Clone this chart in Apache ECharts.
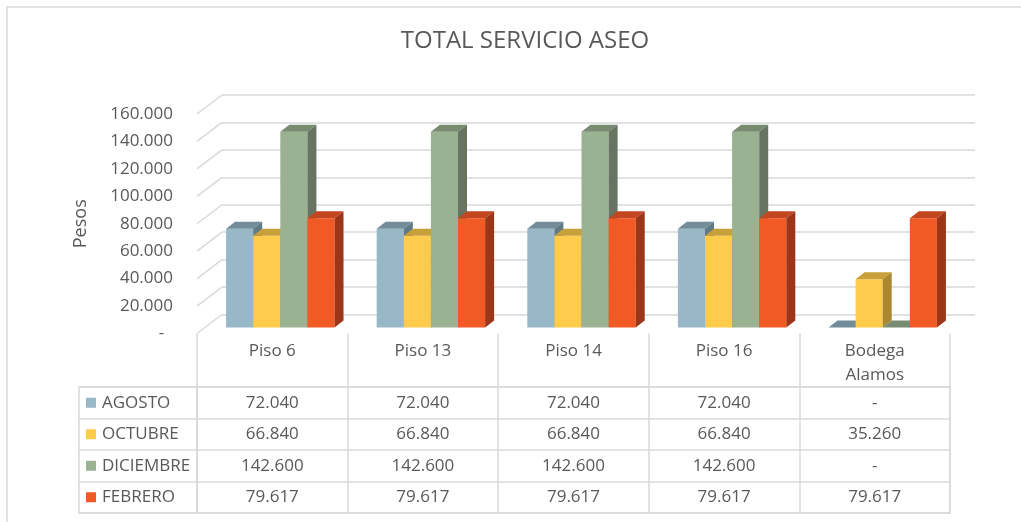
<!DOCTYPE html>
<html>
<head>
<meta charset="utf-8">
<title>TOTAL SERVICIO ASEO</title>
<script src="https://cdn.jsdelivr.net/npm/echarts@6/dist/echarts.min.js"></script>
<style>
  html, body { margin: 0; padding: 0; background: #fff; }
  #main { width: 1021px; height: 522px; }
</style>
</head>
<body>
<div id="main"></div>
<script>
    // datos
    const categories = ['Piso 6', 'Piso 13', 'Piso 14', 'Piso 16', 'Bodega\nAlamos']
    const months = ['AGOSTO', 'OCTUBRE', 'DICIEMBRE', 'FEBRERO']
    const agosto = [72040, 72040, 72040, 72040, 0]
    const octubre = [66840, 66840, 66840, 66840, 35260]
    const diciembre = [142600, 142600, 142600, 142600, 0]
    const febrero = [79617, 79617, 79617, 79617, 79617]
    const yTicks = [0, 20000, 40000, 60000, 80000, 100000, 120000, 140000, 160000]

    const seriesValues = [agosto, octubre, diciembre, febrero]
    // front, top, side
    const faces = [
        ['#98b7c7', '#728d99', '#5f7a86'],
        ['#ffcb4c', '#c8a03a', '#a9882f'],
        ['#9bb292', '#788a70', '#667461'],
        ['#f15a24', '#c2461f', '#9b3619']
    ]
    const FONT = '"Open Sans", sans-serif'
    const TXT = '#595959'
    const GRID_LINE = '#d9d9d9'
    // profundidad (oblicua)
    const DEPTH_X = 25
    const DEPTH_Y = -19
    const BAR_DX = 9
    const BAR_DY = -7

    function fmt (v) {
        if (!v) return '-'
        return String(v).replace(/\B(?=(\d{3})+(?!\d))/g, '.')
    }

    function barRenderer (k) {
        return function (params, api) {
            const i = api.value(0)
            const base = api.coord([i, 0])
            const top = api.coord([i, api.value(1)])
            const bw = api.size([1, 0])[0] * 0.18
            const x0 = base[0] - 2 * bw + k * bw
            const x1 = x0 + bw
            const yb = base[1]
            const yt = top[1]
            return {
                type: 'group',
                children: [
                    {type: 'polygon', z2: k * 3, shape: {points: [[x0, yb], [x1, yb], [x1, yt], [x0, yt]]}, style: {fill: faces[k][0]}},
                    {type: 'polygon', z2: k * 3 + 1, shape: {points: [[x0, yt], [x1, yt], [x1 + BAR_DX, yt + BAR_DY], [x0 + BAR_DX, yt + BAR_DY]]}, style: {fill: faces[k][1]}},
                    {type: 'polygon', z2: k * 3 + 2, shape: {points: [[x1, yt], [x1 + BAR_DX, yt + BAR_DY], [x1 + BAR_DX, yb + BAR_DY], [x1, yb]]}, style: {fill: faces[k][2]}}
                ]
            }
        }
    }

    const barSeries = seriesValues.map((vals, k) => ({
        name: months[k],
        type: 'custom',
        xAxisIndex: 1,
        yAxisIndex: 1,
        renderItem: barRenderer(k),
        encode: {x: 0, y: 1},
        data: vals.map((v, i) => [i, v]),
        z: 5
    }))

    // celdas de la tabla
    const cellData = []
    seriesValues.forEach((vals, m) => {
        vals.forEach((v, i) => cellData.push([i, m, v]))
    })

    const rich = {}
    months.forEach((m, k) => {
        rich['sq' + k] = {width: 10, height: 10, backgroundColor: faces[k][0]}
    })
    rich.t = {fontFamily: FONT, fontSize: 17, color: TXT, padding: [0, 0, 0, 6]}

    const chart = echarts.init(document.getElementById('main'))
    chart.setOption({
        backgroundColor: '#fff',
        animation: false,
        title: {
            text: 'TOTAL SERVICIO ASEO',
            left: 520,
            textAlign: 'center',
            top: 24,
            textStyle: {fontFamily: FONT, fontSize: 24, fontWeight: 'normal', color: TXT}
        },
        graphic: [{
            type: 'rect',
            shape: {x: 7, y: 7, width: 1100, height: 600},
            style: {fill: 'none', stroke: GRID_LINE, lineWidth: 1.5},
            silent: true
        }],
        grid: [
            // plano frontal (etiquetas)
            {left: 197, right: 71, top: 114, height: 219.5},
            // plano de barras
            {left: 205, right: 63, top: 108, height: 219.5},
            // pared trasera
            {left: 222, right: 46, top: 95, height: 219.5},
            // tabla de datos
            {left: 197, right: 71, top: 387, height: 126, show: true, borderColor: GRID_LINE, borderWidth: 1.5},
            // encabezado de filas
            {left: 79, width: 118, top: 387, height: 126, show: true, borderColor: GRID_LINE, borderWidth: 1.5}
        ],
        xAxis: [
            {
                gridIndex: 0,
                type: 'category',
                data: categories,
                axisLine: {show: false},
                axisTick: {show: true, length: 54, lineStyle: {color: GRID_LINE, width: 1.5}},
                axisLabel: {interval: 0, margin: 6, fontFamily: FONT, fontSize: 17, color: TXT, lineHeight: 24}
            },
            {gridIndex: 1, type: 'category', data: categories, show: false},
            {gridIndex: 2, type: 'category', data: categories, show: false},
            {
                gridIndex: 3,
                type: 'category',
                data: categories,
                axisLine: {show: false},
                axisTick: {show: false},
                axisLabel: {show: false},
                splitLine: {show: true, lineStyle: {color: GRID_LINE, width: 1.5}}
            },
            {gridIndex: 4, type: 'value', show: false}
        ],
        yAxis: [
            {
                gridIndex: 0,
                type: 'value',
                min: 0,
                max: 160000,
                interval: 20000,
                name: 'Pesos',
                nameLocation: 'middle',
                nameGap: 107,
                nameTextStyle: {fontFamily: FONT, fontSize: 18, color: TXT},
                axisLine: {show: false},
                axisTick: {show: false},
                splitLine: {show: false},
                axisLabel: {margin: 24, fontFamily: FONT, fontSize: 17, color: TXT, formatter: v => v ? fmt(v) : '-  '}
            },
            {gridIndex: 1, type: 'value', min: 0, max: 160000, interval: 20000, show: false, splitLine: {show: false}},
            {
                gridIndex: 2,
                type: 'value',
                min: 0,
                max: 160000,
                interval: 20000,
                axisLine: {show: false},
                axisTick: {show: false},
                axisLabel: {show: false},
                splitLine: {show: true, lineStyle: {color: GRID_LINE, width: 1.5}}
            },
            {
                gridIndex: 3,
                type: 'category',
                data: months,
                inverse: true,
                axisLine: {show: false},
                axisTick: {show: false},
                axisLabel: {show: false},
                splitLine: {show: true, lineStyle: {color: GRID_LINE, width: 1.5}}
            },
            {
                gridIndex: 4,
                type: 'category',
                data: months,
                inverse: true,
                axisLine: {show: false},
                axisTick: {show: false},
                splitLine: {show: true, lineStyle: {color: GRID_LINE, width: 1.5}},
                axisLabel: {
                    inside: true,
                    margin: 7,
                    formatter: (v, idx) => '{sq' + idx + '|}{t|' + v + '}',
                    rich: rich
                }
            }
        ],
        series: [
            // diagonales de la pared izquierda
            {
                type: 'custom',
                xAxisIndex: 0,
                yAxisIndex: 0,
                silent: true,
                data: yTicks.map(v => [0, v]),
                renderItem: function (params, api) {
                    const p = api.coord([0, api.value(1)])
                    const left = p[0] - api.size([1, 0])[0] / 2
                    return {
                        type: 'line',
                        shape: {x1: left, y1: p[1], x2: left + DEPTH_X, y2: p[1] + DEPTH_Y},
                        style: {stroke: GRID_LINE, lineWidth: 1.5}
                    }
                }
            }
        ].concat(barSeries).concat([
            // valores de la tabla
            {
                type: 'custom',
                xAxisIndex: 3,
                yAxisIndex: 3,
                silent: true,
                data: cellData,
                renderItem: function (params, api) {
                    const p = api.coord([api.value(0), api.value(1)])
                    return {
                        type: 'text',
                        x: p[0],
                        y: p[1],
                        style: {
                            text: fmt(api.value(2)),
                            align: 'center',
                            verticalAlign: 'middle',
                            fontFamily: FONT,
                            fontSize: 17,
                            fill: TXT
                        }
                    }
                }
            }
        ])
    })
</script>
</body>
</html>
